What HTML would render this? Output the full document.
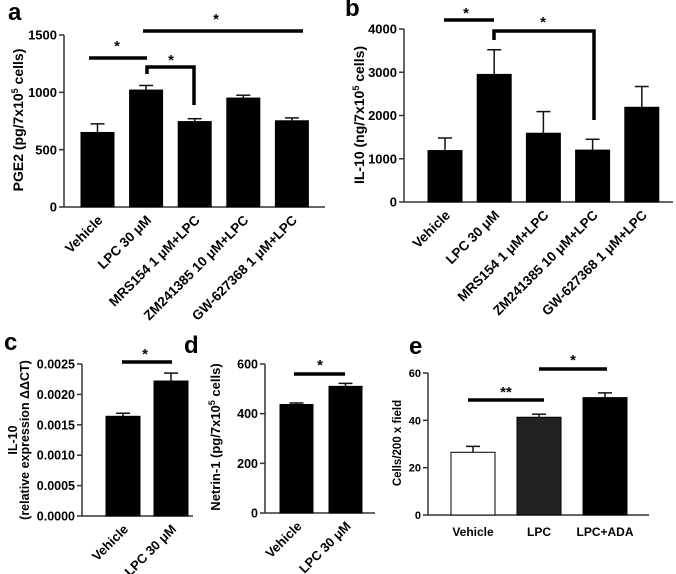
<!DOCTYPE html>
<html><head><meta charset="utf-8"><style>
body{margin:0;background:#fff}
svg{display:block;font-family:"Liberation Sans",Arial,sans-serif;font-weight:bold}
</style></head><body>
<svg id="fig" width="676" height="574" viewBox="0 0 676 574" xmlns="http://www.w3.org/2000/svg"></svg>
<script>
// Panel a
const aCats=["Vehicle","LPC 30 μM","MRS154 1 μM+LPC","ZM241385 10 μM+LPC","GW-627368 1 μM+LPC"];
const aVals=[650,1020,745,950,752];
const aErr=[75,40,25,25,25];
const aTicks=[0,500,1000,1500];
// Panel b
const bCats=["Vehicle","LPC 30 μM","MRS154 1 μM+LPC","ZM241385 10 μM+LPC","GW-627368 1 μM+LPC"];
const bVals=[1190,2950,1590,1200,2190];
const bErr=[290,570,500,250,480];
const bTicks=[0,1000,2000,3000,4000];
// Panel c
const cCats=["Vehicle","LPC 30 μM"];
const cVals=[0.00164,0.00222];
const cErr=[0.00005,0.00013];
const cTicks=["0.0000","0.0005","0.0010","0.0015","0.0020","0.0025"];
// Panel d
const dCats=["Vehicle","LPC 30 μM"];
const dVals=[437,510];
const dErr=[6,12];
const dTicks=[0,200,400,600];
// Panel e
const eCats=["Vehicle","LPC","LPC+ADA"];
const eVals=[26.5,41.3,49.6];
const eErr=[2.5,1.3,2.0];
const eTicks=[0,20,40,60];

const NS="http://www.w3.org/2000/svg";
const svg=document.getElementById('fig');
function mk(tag,attrs,parent,txt){
  const e=document.createElementNS(NS,tag);
  for(const k in attrs)e.setAttribute(k,attrs[k]);
  if(txt!==undefined)e.textContent=txt;
  (parent||svg).appendChild(e);return e;
}
function panel(p){
  const g=mk('g',{});
  
  
  const tMax=+p.ticks[p.ticks.length-1];
  const y=v=>p.y0-(v/tMax)*(p.y0-p.yTop);
  const x=i=>p.x0+i*p.step;
  const ya=mk('line',{x1:p.ax,y1:p.yTop,x2:p.ax,y2:p.y0,stroke:'#333','stroke-width':1.5},g);
  
  const xa=mk('line',{x1:p.ax,y1:p.y0,x2:p.axEnd,y2:p.y0,stroke:'#333','stroke-width':1.5},g);
  
  p.ticks.forEach(t=>{
    const yy=y(+t);
    mk('line',{x1:p.ax-5,y1:yy,x2:p.ax,y2:yy,stroke:'#333','stroke-width':1.5},g);
    const tl=mk('text',{x:p.ax-7,y:yy+p.fs*0.36,'text-anchor':'end','font-size':p.fs},g,t);
    
  });
  p.vals.forEach((v,i)=>{
    const cx=x(i)+p.bw/2;
    const top=y(v),et=y(v+p.err[i]);
    mk('line',{x1:cx,y1:top,x2:cx,y2:et,stroke:'#111','stroke-width':1.5},g);
    mk('line',{x1:cx-7,y1:et,x2:cx+7,y2:et,stroke:'#111','stroke-width':1.5},g);
    const fill=p.fills?p.fills[i]:'#000';
    const r=mk('rect',{x:x(i),y:top,width:p.bw,height:p.y0-top,fill:fill,stroke:'#000','stroke-width':1},g);
    
    let lab;
    if(p.rot){
      lab=mk('text',{x:cx+6,y:p.y0+14,'text-anchor':'end','font-size':p.xfs,transform:`rotate(-45 ${cx+6} ${p.y0+14})`},g,p.cats[i]);
    }else{
      lab=mk('text',{x:cx,y:p.y0+21,'text-anchor':'middle','font-size':p.xfs},g,p.cats[i]);
    }
    
  });
  const L=mk('text',{x:p.lx,y:p.ly,'font-size':24},g,p.letter);
  
  p.ylab.forEach((s,k)=>{
    const tx=p.ytx+k*12;
    const t=mk('text',{x:tx,y:p.yty,'text-anchor':'middle','font-size':p.yfs,transform:`rotate(-90 ${tx} ${p.yty})`},g);
    
    t.innerHTML=s;
  });
  (p.sig||[]).forEach(s=>{
    mk('path',{d:s.d,fill:'none',stroke:'#000','stroke-width':3.5},g);
    const st=mk('text',{x:s.sx,y:s.sy,'text-anchor':'middle','font-size':15},g,s.s);
    
  });
}
panel({name:'panel-a',letter:'a',lx:8,ly:20,cats:aCats,vals:aVals,err:aErr,ticks:aTicks,ax:64,axEnd:325,y0:207,yTop:35,x0:81,step:48.6,bw:33,fs:13,xfs:13.5,rot:true,
  ylab:['PGE2 (pg/7x10<tspan font-size="9" dy="-5">5</tspan><tspan dy="5"> cells)</tspan>'],ytx:23,yty:120,yfs:14,
  sig:[{d:'M89 58H147',s:'*',sx:117,sy:51},{d:'M147 74V67H194V105',s:'*',sx:171,sy:65},{d:'M143 31H303',s:'*',sx:216,sy:24}]});
panel({name:'panel-b',letter:'b',lx:345,ly:16,cats:bCats,vals:bVals,err:bErr,ticks:bTicks,ax:404,axEnd:673,y0:202,yTop:29,x0:428,step:49.2,bw:34,fs:13,xfs:13.5,rot:true,
  ylab:['IL-10 (ng/7x10<tspan font-size="9" dy="-5">5</tspan><tspan dy="5"> cells)</tspan>'],ytx:364,yty:115,yfs:14,
  sig:[{d:'M444 20H494',s:'*',sx:466,sy:18},{d:'M494 40V31H594V120',s:'*',sx:543,sy:27}]});
panel({name:'panel-c',letter:'c',lx:4,ly:350,cats:cCats,vals:cVals,err:cErr,ticks:cTicks,ax:82,axEnd:193,y0:516,yTop:364,x0:106,step:48,bw:34,fs:12.5,xfs:13,rot:true,
  ylab:['IL-10','(relative expression ΔΔCT)'],ytx:17,yty:440,yfs:12.5,
  sig:[{d:'M122 362H172',s:'*',sx:145,sy:359}]});
panel({name:'panel-d',letter:'d',lx:184,ly:353,cats:dCats,vals:dVals,err:dErr,ticks:dTicks,ax:265,axEnd:375,y0:513,yTop:364,x0:280,step:49,bw:33,fs:12.5,xfs:13,rot:true,
  ylab:['Netrin-1 (pg/7x10<tspan font-size="9" dy="-5">5</tspan><tspan dy="5"> cells)</tspan>'],ytx:220,yty:437,yfs:13,
  sig:[{d:'M294 374H345',s:'*',sx:320,sy:370}]});
panel({name:'panel-e',letter:'e',lx:409,ly:354,cats:eCats,vals:eVals,err:eErr,ticks:eTicks,ax:428,axEnd:649,y0:515,yTop:373,x0:451,step:66,bw:44,fs:11,xfs:12,rot:false,fills:['#fff','#222','#000'],
  ylab:['Cells/200 x field'],ytx:401,yty:443,yfs:11.5,
  sig:[{d:'M468 400H544',s:'**',sx:506,sy:397},{d:'M539 369H607',s:'*',sx:573,sy:365}]});
</script>
</body></html>
